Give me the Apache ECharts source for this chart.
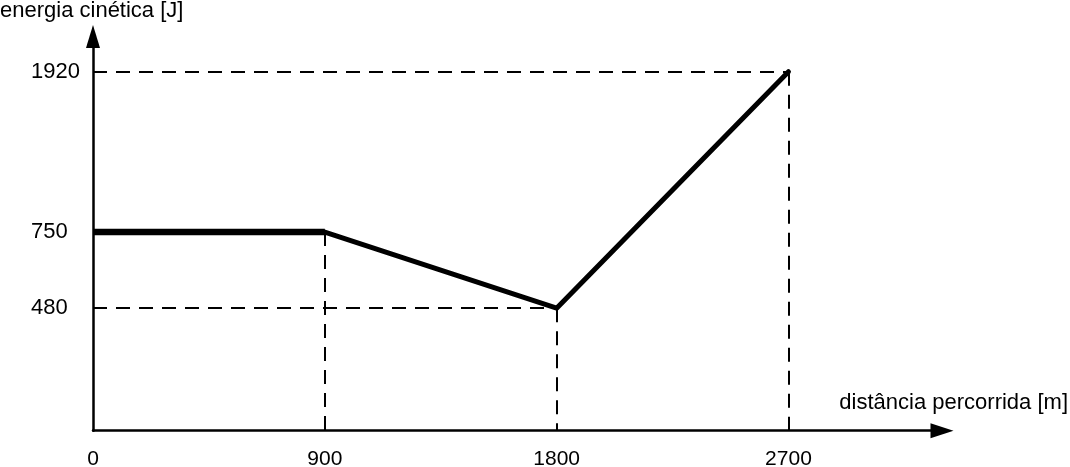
<!DOCTYPE html>
<html><head><meta charset="utf-8">
<script src="https://cdn.jsdelivr.net/npm/echarts@6/dist/echarts.min.js"></script>
<style>html,body{margin:0;padding:0;background:#fff}#c{width:1070px;height:467px}</style>
</head><body><div id="c"></div>
<script>
// ---- data ----
const distance = [0, 900, 1800, 2700];
const energy = [750, 750, 480, 1920];
const xTicks = [0, 900, 1800, 2700];
const yTicks = [480, 750, 1920];
const xName = 'distância percorrida [m]';
const yName = 'energia cinética [J]';

// ---- axis extents (schematic, non-linear energy axis) ----
const X_MAX = 3300, Y_MIN = 234, Y_MAX = 2360;
const FONT = '"Liberation Sans", Arial, sans-serif';

const pts = distance.map((d, i) => [d, energy[i]]);

// dashed guide lines from each point to the axes
const guides = [];
pts.forEach(([x, y]) => {
  if (x > 0 && y !== energy[0]) guides.push([{coord: [0, y]}, {coord: [x, y]}]);
  if (x > 0) guides.push([{coord: [x, y]}, {coord: [x, Y_MIN]}]);
});

const chart = echarts.init(document.getElementById('c'), null, {renderer: 'canvas'});
chart.setOption({
  animation: false,
  backgroundColor: '#fff',
  title: [
    {text: yName, left: 0, top: 0, padding: 0,
     textStyle: {fontSize: 22, fontWeight: 'normal', color: '#000', fontFamily: FONT}},
    {text: xName, right: 2, top: 392, padding: 0,
     textStyle: {fontSize: 22, fontWeight: 'normal', color: '#000', fontFamily: FONT}}
  ],
  grid: {left: 93, top: 36.5, width: 850, height: 394.2, containLabel: false, outerBoundsMode: 'none'},
  xAxis: {
    type: 'value', min: 0, max: X_MAX, interval: 900,
    axisLine: {show: true, onZero: false, symbol: ['none', 'triangle'], symbolSize: [15, 23], symbolOffset: [0, -1],
               lineStyle: {color: '#000', width: 2.5}},
    axisTick: {show: false},
    splitLine: {show: false},
    axisLabel: {customValues: xTicks, margin: 18, fontSize: 21, color: '#000', fontFamily: FONT,
                formatter: v => xTicks.includes(Math.round(v)) ? String(Math.round(v)) : ''}
  },
  yAxis: {
    type: 'log', logBase: 10, min: Y_MIN, max: Y_MAX,
    axisLine: {show: true, symbol: ['none', 'triangle'], symbolSize: [14, 23],
               lineStyle: {color: '#000', width: 2.5}},
    axisTick: {show: false},
    splitLine: {show: false},
    minorTick: {show: false},
    axisLabel: {customValues: yTicks, align: 'left', margin: 62, fontSize: 22, color: '#000', fontFamily: FONT,
                formatter: v => String(Math.round(v))}
  },
  series: [
    {
      type: 'line', data: pts.slice(0, 2), symbol: 'none', silent: true, z: 3,
      lineStyle: {color: '#000', width: 6.5, cap: 'butt'}
    },
    {
      type: 'line', data: pts.slice(1), symbol: 'none', silent: true, z: 3,
      lineStyle: {color: '#000', width: 5, cap: 'round', join: 'round'},
      markLine: {
        silent: true, symbol: ['none', 'none'], label: {show: false},
        lineStyle: {color: '#000', width: 2, type: [14, 9]},
        data: guides
      }
    }
  ]
});
</script>
</body></html>
